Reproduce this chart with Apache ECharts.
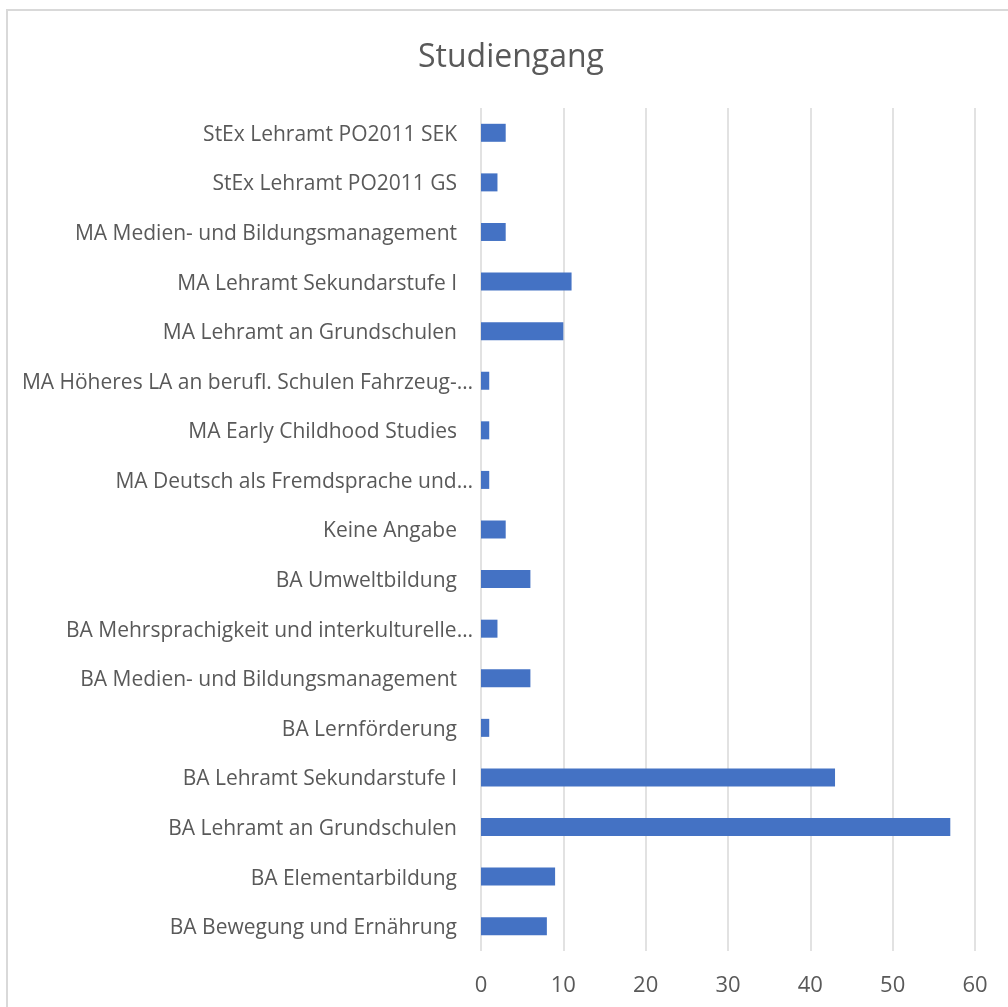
<!DOCTYPE html>
<html>
<head>
<meta charset="utf-8">
<script src="https://cdn.jsdelivr.net/npm/echarts@6/dist/echarts.min.js"></script>
<style>
  html, body { margin: 0; padding: 0; background: #fff; }
  #chart { width: 1008px; height: 1007px; }
</style>
</head>
<body>
<div id="chart"></div>
<script>
// categories bottom -> top (as ECharts category axis draws them)
const categories = [
  'BA Bewegung und Ernährung',
  'BA Elementarbildung',
  'BA Lehramt an Grundschulen',
  'BA Lehramt Sekundarstufe I',
  'BA Lernförderung',
  'BA Medien- und Bildungsmanagement',
  'BA Mehrsprachigkeit und interkulturelle…',
  'BA Umweltbildung',
  'Keine Angabe',
  'MA Deutsch als Fremdsprache und…',
  'MA Early Childhood Studies',
  'MA Höheres LA an berufl. Schulen Fahrzeug-…',
  'MA Lehramt an Grundschulen',
  'MA Lehramt Sekundarstufe I',
  'MA Medien- und Bildungsmanagement',
  'StEx Lehramt PO2011 GS',
  'StEx Lehramt PO2011 SEK'
];
const counts = [8, 9, 57, 43, 1, 6, 2, 6, 3, 1, 1, 1, 10, 11, 3, 2, 3];
const xTicks = [0, 10, 20, 30, 40, 50, 60];

const chart = echarts.init(document.getElementById('chart'));
chart.setOption({
  animation: false,
  textStyle: { fontFamily: 'Open Sans' },
  title: {
    text: 'Studiengang',
    left: 413,
    top: 37,
    textStyle: { fontSize: 32, fontWeight: 'normal', color: '#595959', fontFamily: 'Open Sans' }
  },
  graphic: [{
    type: 'rect',
    shape: { x: 7, y: 10, width: 1100, height: 1100 },
    style: { fill: 'none', stroke: '#d9d9d9', lineWidth: 2 },
    silent: true
  }],
  grid: { left: 481, right: 33, top: 108, bottom: 56 },
  xAxis: {
    type: 'value',
    min: xTicks[0],
    max: xTicks[xTicks.length - 1],
    interval: 10,
    axisLine: { show: false },
    axisTick: { show: false },
    splitLine: { lineStyle: { color: '#d9d9d9', width: 1.5 } },
    axisLabel: { color: '#595959', fontSize: 22, margin: 24 }
  },
  yAxis: {
    type: 'category',
    data: categories,
    axisLine: { show: false },
    axisTick: { show: false },
    axisLabel: {
      margin: 8,
      formatter: function (v) {
        return v.endsWith('…') ? '{t|' + v + '}' : '{n|' + v + '}';
      },
      rich: {
        n: { color: '#595959', fontSize: 21, padding: [4, 16, 0, 0] },
        t: { color: '#595959', fontSize: 21, padding: [4, 0, 0, 0] }
      }
    }
  },
  series: [{
    type: 'bar',
    data: counts,
    barWidth: 18,
    itemStyle: { color: '#4472C4' }
  }]
});
</script>
</body>
</html>
